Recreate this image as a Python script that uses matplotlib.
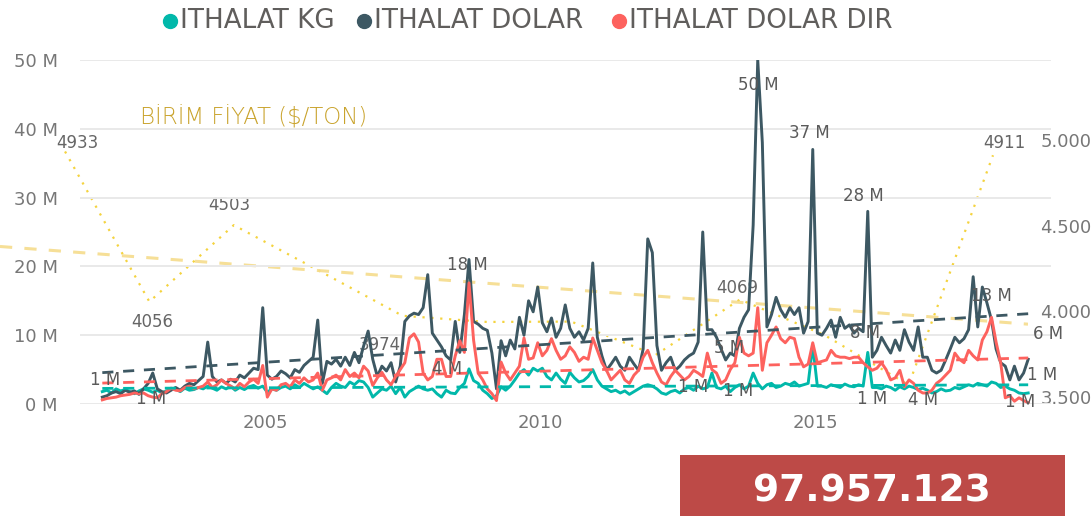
import numpy as np
import matplotlib
matplotlib.use('Agg')
import matplotlib.pyplot as plt
from matplotlib.patches import Rectangle
from matplotlib.lines import Line2D
from matplotlib.ticker import FuncFormatter

# monthly import values (million), Jan 2002 - Nov 2018
ithalat_dolar = [
    1.0, 1.2, 1.6, 1.8, 1.5, 2.0, 1.7, 1.9, 1.4, 2.2, 3.0, 4.5,        # 2002
    2.2, 1.8, 1.6, 2.0, 2.4, 2.0, 2.6, 3.0, 2.8, 3.4, 4.0, 9.0,        # 2003
    4.0, 3.2, 3.5, 3.0, 3.6, 3.2, 4.2, 3.8, 4.5, 5.2, 5.0, 14.0,       # 2004
    4.2, 3.6, 4.0, 4.8, 4.4, 3.8, 5.0, 4.6, 5.6, 6.2, 6.8, 12.2,       # 2005
    3.0, 6.2, 5.8, 6.5, 5.5, 6.8, 5.6, 7.5, 6.0, 8.4, 10.6, 6.5,       # 2006
    4.0, 5.5, 4.8, 6.0, 3.2, 5.5, 12.0, 12.8, 13.2, 13.0, 14.0, 18.8,  # 2007
    10.3, 9.3, 8.3, 7.0, 6.4, 12.0, 7.5, 13.0, 21.0, 12.0, 11.6, 11.0, # 2008
    10.7, 7.4, 2.2, 9.2, 7.0, 9.3, 8.0, 12.6, 10.0, 15.0, 13.4, 17.0,  # 2009
    11.8, 10.5, 12.5, 9.7, 11.0, 14.4, 11.0, 9.7, 10.5, 9.3, 11.0, 20.5,  # 2010
    9.7, 7.0, 4.9, 5.8, 6.8, 5.5, 4.9, 6.8, 5.8, 4.9, 8.0, 24.0,       # 2011
    22.0, 8.5, 4.9, 6.0, 6.8, 4.9, 5.5, 6.4, 7.0, 7.4, 9.0, 25.0,      # 2012
    10.8, 10.8, 9.7, 8.0, 6.4, 7.4, 7.0, 11.0, 12.6, 13.7, 26.0, 50.0, # 2013
    38.0, 11.2, 13.0, 15.5, 13.7, 12.6, 14.0, 13.0, 14.0, 10.3, 12.0, 37.0,  # 2014
    10.3, 10.0, 11.0, 12.2, 9.7, 12.6, 11.0, 11.5, 10.3, 11.0, 10.5, 28.0,   # 2015
    6.8, 7.8, 9.7, 8.5, 7.4, 9.3, 7.8, 10.8, 9.0, 7.8, 11.2, 6.8,      # 2016
    6.8, 4.9, 4.5, 4.9, 6.4, 8.0, 9.7, 8.9, 9.5, 10.8, 18.5, 11.2,     # 2017
    17.0, 14.7, 12.2, 8.0, 6.0, 5.5, 3.5, 5.5, 3.5, 4.5, 6.5,          # 2018
]
ithalat_dolar_dir = [
    0.6, 0.8, 0.9, 1.0, 1.2, 1.3, 1.4, 1.6, 1.5, 1.6, 1.2, 1.0,
    0.9, 1.5, 1.8, 2.3, 2.0, 1.9, 2.4, 2.6, 2.2, 2.4, 2.6, 3.2,
    2.4, 2.8, 3.5, 3.0, 2.6, 2.2, 3.0, 2.5, 3.2, 3.6, 3.0, 5.6,
    1.0, 2.2, 2.0, 2.8, 3.0, 2.5, 3.5, 3.0, 3.8, 3.2, 3.5, 4.5,
    2.0, 3.5, 3.8, 4.2, 3.5, 5.0, 4.0, 4.5, 3.8, 5.5, 4.8, 2.7,
    3.8, 4.6, 3.5, 2.8, 4.0, 5.0, 6.0, 9.6, 10.2, 9.0, 4.5, 3.5,
    4.0, 6.5, 6.5, 4.0, 4.0, 7.0, 9.2, 7.5, 17.6, 9.3, 4.5, 3.5,
    2.2, 1.5, 0.5, 6.1, 4.5, 3.5, 4.5, 5.5, 9.6, 6.5, 6.7, 8.9,
    7.0, 7.8, 9.5, 7.8, 6.5, 7.0, 8.3, 7.5, 6.2, 6.8, 6.5, 9.6,
    7.8, 6.0, 4.9, 3.5, 4.2, 4.9, 3.5, 3.0, 4.2, 4.9, 6.8, 7.8,
    6.0, 4.5, 3.2, 2.8, 4.0, 4.9, 4.2, 3.5, 4.0, 4.9, 4.5, 4.0,
    7.4, 5.0, 4.5, 3.0, 3.5, 5.0, 6.0, 9.7, 7.4, 7.0, 7.4, 14.0,
    4.9, 8.9, 10.0, 11.2, 9.5, 8.9, 9.7, 9.5, 6.8, 5.4, 5.8, 8.9,
    6.0, 6.2, 6.4, 7.8, 7.0, 6.8, 6.8, 6.6, 6.8, 6.8, 6.0, 5.4,
    4.9, 5.2, 6.0, 5.0, 3.5, 3.8, 4.9, 2.5, 3.5, 3.0, 2.0, 1.6,
    1.6, 2.0, 3.0, 3.5, 4.2, 4.9, 7.4, 6.5, 6.0, 7.8, 7.0, 6.4,
    9.3, 10.5, 12.6, 9.0, 6.0, 0.9, 1.2, 0.4, 0.9, 0.5, 0.2,
]
ithalat_kg = [
    1.8, 2.0, 1.6, 2.2, 1.9, 2.1, 1.8, 1.5, 1.9, 2.2, 2.0, 1.7,
    2.0, 1.6, 1.9, 2.1, 2.2, 1.8, 2.3, 2.0, 2.1, 2.4, 2.2, 2.6,
    2.3, 2.0, 2.5, 2.2, 2.6, 2.0, 2.4, 2.1, 2.5, 2.7, 2.3, 2.6,
    1.7, 2.2, 2.0, 2.4, 2.6, 2.2, 2.8, 2.4, 3.0, 2.6, 2.2, 2.5,
    2.0, 1.5, 2.4, 3.0, 2.6, 2.4, 3.2, 2.8, 3.4, 3.2, 2.4, 1.0,
    1.6, 2.2, 2.0, 2.6, 1.5, 2.4, 1.0, 1.8, 2.2, 2.6, 2.2, 2.0,
    2.2, 1.5, 1.0, 2.0, 1.6, 1.5, 2.4, 3.0, 5.1, 3.4, 3.0, 2.0,
    1.5, 0.8, 1.2, 2.5, 2.0, 2.6, 3.5, 4.5, 5.0, 4.2, 5.2, 4.8,
    5.2, 4.0, 3.5, 4.5, 3.6, 3.0, 4.6, 3.8, 3.2, 3.4, 4.0, 5.0,
    3.5, 2.6, 2.2, 1.8, 2.0, 1.6, 1.9, 1.4, 1.8, 2.2, 2.6, 2.8,
    2.6, 2.2, 1.6, 1.4, 1.8, 2.0, 1.6, 2.2, 2.4, 2.0, 2.6, 2.2,
    2.4, 4.5, 2.4, 2.2, 2.6, 1.8, 2.4, 2.8, 2.2, 2.6, 4.5, 3.0,
    2.2, 2.8, 3.0, 2.4, 2.6, 3.0, 2.8, 3.2, 2.6, 2.8, 3.0, 8.5,
    2.6, 2.6, 2.4, 2.8, 2.6, 2.4, 2.9, 2.6, 2.5, 2.8, 2.6, 7.5,
    2.4, 2.4, 2.2, 2.6, 2.4, 2.0, 2.5, 2.2, 2.6, 2.4, 2.1, 2.3,
    2.0, 1.6, 1.8, 2.2, 1.9, 2.0, 2.4, 2.2, 2.5, 2.8, 2.6, 3.0,
    2.8, 2.6, 3.2, 3.0, 2.4, 2.6, 2.2, 2.0, 1.6, 1.5, 1.6,
]
birim_yillar = list(range(2007, 2019))
birim_fiyat = [4933, 4056, 4503, 4240, 3974, 3938, 3940, 3745, 4069, 3862, 3570, 4911]
toplam = '97.957.123'

W, H = 1091, 516
teal, dark, red = '#01B8AA', '#3D5863', '#FD625E'
yel = '#F2C80F'
gray = '#777777'
plt.rcParams['font.family'] = 'DejaVu Sans'

n = len(ithalat_dolar)
dates = np.array([2002 + (i + 0.5) / 12 for i in range(n)])

fig = plt.figure(figsize=(W / 100, H / 100), dpi=100)

# price axis (behind)
ax3 = fig.add_axes([0, 1 - 404 / H, 1028 / W, 344 / H])
ax3.set_zorder(0)
ax3.patch.set_visible(False)
ax3.set_xlim(2006.229, 2018.415)
ax3.set_ylim(3459, 5467)
ax3.plot(birim_yillar, birim_fiyat, color=yel, lw=1.6, ls=(0, (1, 3)), alpha=0.8, clip_on=False)
p = np.polyfit(birim_yillar, birim_fiyat, 1)
tx = np.array(ax3.get_xlim())
ax3.plot(tx, np.polyval(p, tx), color='#F5DC8C', lw=2.2, ls=(0, (4, 4)), alpha=0.9)
ax3.yaxis.tick_right()
ax3.set_yticks([3500, 4000, 4500, 5000])
ax3.yaxis.set_major_formatter(FuncFormatter(lambda v, _: f'{v:,.0f}'.replace(',', '.')))
ax3.tick_params(axis='y', length=0, pad=9, labelsize=13, labelcolor=gray)
ax3.set_xticks([])
for s in ax3.spines.values():
    s.set_visible(False)

fiyat_off = [(12, 8), (3, -20), (-4, 20), None, (-23, -29), None, None, None, (-3, 11), None, None, (11, 12)]
for yil, v, off in zip(birim_yillar, birim_fiyat, fiyat_off):
    if off:
        ax3.annotate(str(v), (yil, v), xytext=off, textcoords='offset pixels', ha='center', va='center',
                     fontsize=12, color='#666666', annotation_clip=False)

# main axis
ax = fig.add_axes([80 / W, 1 - 404 / H, 971 / W, 344 / H])
ax.set_zorder(1)
ax.patch.set_visible(False)
ax.set_xlim(2001.636, 2019.29)
ax.set_ylim(0, 50)
ax.set_yticks(range(0, 51, 10))
ax.yaxis.set_major_formatter(FuncFormatter(lambda v, _: f'{v:.0f} M'))
ax.set_xticks([2005, 2010, 2015])
ax.tick_params(length=0, labelsize=13, labelcolor=gray)
ax.tick_params(axis='y', pad=16)
ax.tick_params(axis='x', pad=7)
ax.grid(axis='y', color='#E9E9E9', lw=1.4)
ax.set_axisbelow(True)
for s in ax.spines.values():
    s.set_visible(False)

for vals, c in [(ithalat_kg, teal), (ithalat_dolar, dark), (ithalat_dolar_dir, red)]:
    ax.plot(dates, vals, color=c, lw=2.1, solid_joinstyle='round')
for vals, c in [(ithalat_kg, teal), (ithalat_dolar, dark), (ithalat_dolar_dir, red)]:
    k = np.polyfit(dates, vals, 1)
    ex = dates[[0, -1]]
    ax.plot(ex, np.polyval(k, ex), color=c, lw=2.0, ls=(0, (4, 3.5)))

def etiket(vals, i, off, txt=None):
    v = vals[i]
    ax.annotate(txt or f'{v:.0f} M', (dates[i], v), xytext=off, textcoords='offset pixels',
                ha='center', va='center', fontsize=12, color='#5A5A5A', annotation_clip=False)

etiket(ithalat_dolar, int(np.argmax(ithalat_dolar)), (1, -25))
etiket(ithalat_dolar, 155, (-3, 16))
etiket(ithalat_dolar, 167, (-4, 15))
etiket(ithalat_dolar_dir, 80, (-2, 18))
etiket(ithalat_dolar_dir, 194, (0, 21))
etiket(ithalat_dolar, n - 1, (20, 25))
etiket(ithalat_kg, n - 1, (14, 18), '1 M')
etiket(ithalat_dolar_dir, n - 1, (-8, 1), '1 M')
etiket(ithalat_dolar, 0, (3, 17), '1 M')
etiket(ithalat_dolar_dir, 11, (-2, -2), '1 M')
etiket(ithalat_kg, 80, (-22, 0), '4 M')
etiket(ithalat_kg, 128, (4, 0), '1 M')
etiket(ithalat_kg, 137, (8, 1), '1 M')
etiket(ithalat_kg, 138, (-6, 39), '5 M')
etiket(ithalat_kg, 166, (2, 53), '8 M')
etiket(ithalat_kg, 168, (0, -12), '1 M')
etiket(ithalat_kg, 179, (0, -12), '4 M')

# legend
for x, c, t in [(170, teal, 'ITHALAT KG'), (364, dark, 'ITHALAT DOLAR'), (619, red, 'ITHALAT DOLAR DIR')]:
    fig.add_artist(Line2D([x / W], [1 - 21 / H], transform=fig.transFigure, marker='o',
                          markersize=10, color=c, lw=0))
    fig.text((x + 10) / W, 1 - 21 / H, t, fontsize=18.8, color='#605E5C', va='center', ha='left')

fig.text(140 / W, 1 - 118 / H, 'BİRİM FİYAT ($/TON)', fontsize=16.5, color='#C9A32C',
         va='center', ha='left', fontweight='light')

# card
fig.add_artist(Rectangle((680 / W, 0), 385 / W, 61 / H, transform=fig.transFigure,
                         facecolor='#BD4A47', edgecolor='none'))
fig.text(872 / W, 1 - 492 / H, toplam, fontsize=27, color='white', fontweight='bold',
         ha='center', va='center')

fig.savefig('out.png', dpi=100)
